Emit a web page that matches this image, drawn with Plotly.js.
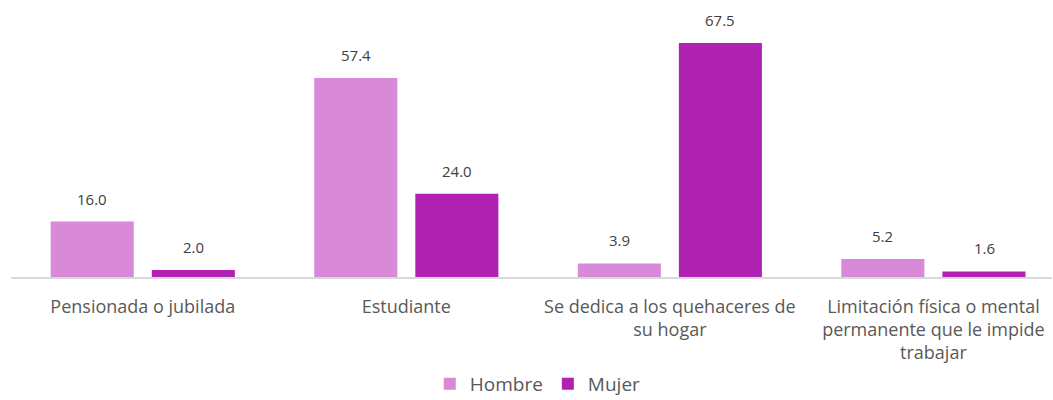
<!DOCTYPE html>
<html>
<head>
<meta charset="utf-8">
<script src="https://cdn.plot.ly/plotly-3.0.1.min.js"></script>
<style>html,body{margin:0;padding:0;background:#fff;}#chart{width:1053px;height:400px;}</style>
</head>
<body>
<div id="chart"></div>
<script>
var categories = [
  "Pensionada o jubilada",
  "Estudiante",
  "Se dedica a los quehaceres de<br>su hogar",
  "Limitación física o mental<br>permanente que le impide<br>trabajar"
];
var hombre = [16.0, 57.4, 3.9, 5.2];
var mujer = [2.0, 24.0, 67.5, 1.6];
var seriesNames = ["Hombre", "Mujer"];

var labelFont = {family: "Open Sans, sans-serif", size: 15, color: "#404040"};
var annotations = [];
function addLabels(vals, shift) {
  vals.forEach(function (v, i) {
    annotations.push({
      x: i + shift, y: v, xref: "x", yref: "y",
      text: v.toFixed(1), showarrow: false,
      yanchor: "middle", yshift: 23,
      font: labelFont
    });
  });
}
addLabels(hombre, -0.192);
addLabels(mujer, 0.192);

var traces = [
  {type: "bar", name: seriesNames[0], x: [0,1,2,3], y: hombre,
   marker: {color: "#D88AD8", line: {width: 0}}, hoverinfo: "none"},
  {type: "bar", name: seriesNames[1], x: [0,1,2,3], y: mujer,
   marker: {color: "#B023B2", line: {width: 0}}, hoverinfo: "none"}
];

var layout = {
  width: 1053, height: 400,
  margin: {l: 11, r: 1, t: 10, b: 123, autoexpand: false},
  paper_bgcolor: "#ffffff", plot_bgcolor: "#ffffff",
  barmode: "group", bargap: 0.233, bargroupgap: 0.178,
  showlegend: true,
  legend: {orientation: "h", x: 0.506, xanchor: "center",
           yref: "container", y: 0.04, yanchor: "middle",
           font: {family: "Open Sans, sans-serif", size: 19, color: "#595959"},
           itemwidth: 30, traceorder: "normal", tracegroupgap: 0},
  xaxis: {
    type: "linear", range: [-0.5, 3.45],
    tickmode: "array", tickvals: [0,1,2,3], ticktext: categories,
    showgrid: false, zeroline: false,
    showline: true, linecolor: "#D9D9D9", linewidth: 2,
    ticks: "", ticklen: 0, ticklabelstandoff: 12,
    tickfont: {family: "Open Sans, sans-serif", size: 18, color: "#595959"},
    fixedrange: true
  },
  yaxis: {
    range: [0, 77], showgrid: false, zeroline: false, showline: false,
    showticklabels: false, ticks: "", fixedrange: true
  },
  annotations: annotations
};

Plotly.newPlot("chart", traces, layout, {displayModeBar: false, staticPlot: true});
</script>
</body>
</html>
